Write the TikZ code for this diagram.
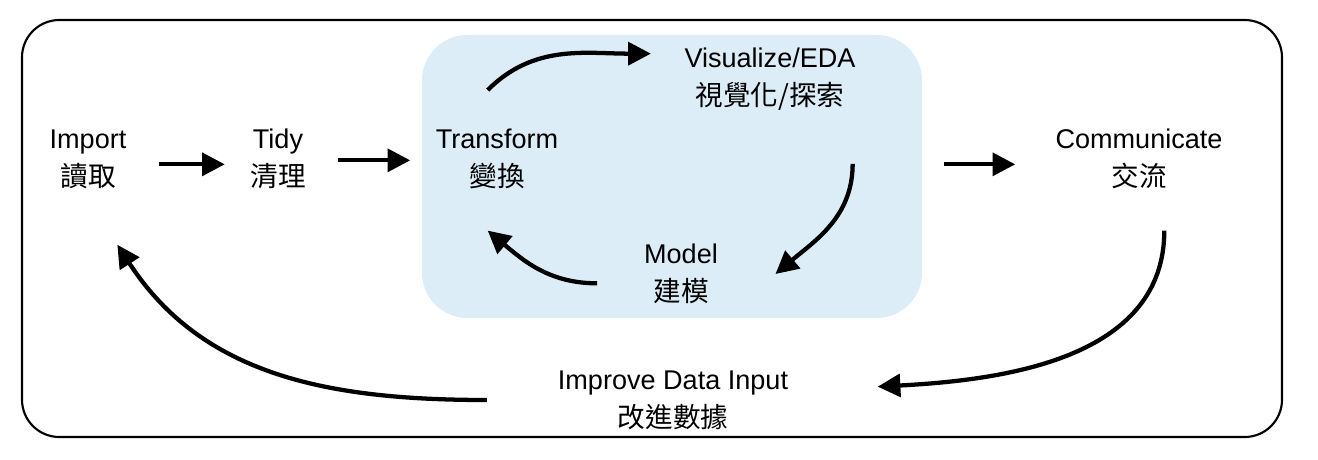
\documentclass[tikz,border=0pt]{standalone}
\usepackage{fontspec}
\setmainfont{Liberation Sans}
\newfontfamily\cjk{Noto Sans CJK TC}[Scale=1.02]
\usetikzlibrary{arrows.meta}
\definecolor{boxblue}{RGB}{221,237,248}

\begin{document}
\begin{tikzpicture}[x=0.75pt, y=-0.75pt,
  stage/.style={align=center, inner sep=0pt, font=\fontsize{20.3pt}{28.5pt}\selectfont},
  flow/.style={line width=3.2pt, -{Triangle[length=17pt,width=17pt]}}]

\useasboundingbox (0,0) rectangle (1318,460);

\draw[line width=1.6pt, rounded corners=28pt] (22,20) rectangle (1282,437);
\fill[boxblue, rounded corners=34pt] (422,35) rectangle (922,318);

\node[stage] (import) at (88,159) {Import\\{\cjk 讀取}};
\node[stage] (tidy) at (278,159) {Tidy\\{\cjk 清理}};
\node[stage] (transform) at (497,159) {Transform\\{\cjk 變換}};
\node[stage] (visual) at (770,79) {Visualize/EDA\\{\cjk 視覺化/探索}};
\node[stage] (model) at (681,274) {Model\\{\cjk 建模}};
\node[stage] (comm) at (1139,159) {Communicate\\{\cjk 交流}};
\node[stage] (improve) at (673,400) {Improve Data Input\\{\cjk 改進數據}};

\draw[flow, shorten <=24pt, shorten >=19pt] ([yshift=-4pt]import.east) -- ([yshift=-4pt]tidy.west);
\draw[flow, shorten <=24pt, shorten >=19pt] ([yshift=-1pt]tidy.east) -- ([yshift=-1pt]transform.west);
\draw[flow, shorten <=66pt, shorten >=30pt] ([yshift=-4pt]comm.west -| visual.east) -- ([yshift=-4pt]comm.west);

\draw[flow] ([shift={(-7pt,29pt)}]transform.north) to[out=45, in=180] ([shift={(-25pt,19pt)}]visual.west);
\draw[flow] ([shift={(62pt,-40pt)}]visual.south) to[out=-90, in=40] ([shift={(43pt,0pt)}]model.east);
\draw[flow] ([shift={(-35pt,-7pt)}]model.west) to[out=180, in=-40] ([shift={(-7pt,-31pt)}]transform.south);

\draw[flow] ([shift={(19pt,-31pt)}]comm.south) to[out=-90, in=3] ([shift={(67pt,10pt)}]improve.east);
\draw[flow] ([xshift=-53pt]improve.west) to[out=180, in=-57] ([shift={(22pt,-42pt)}]import.south);

\end{tikzpicture}
\end{document}
